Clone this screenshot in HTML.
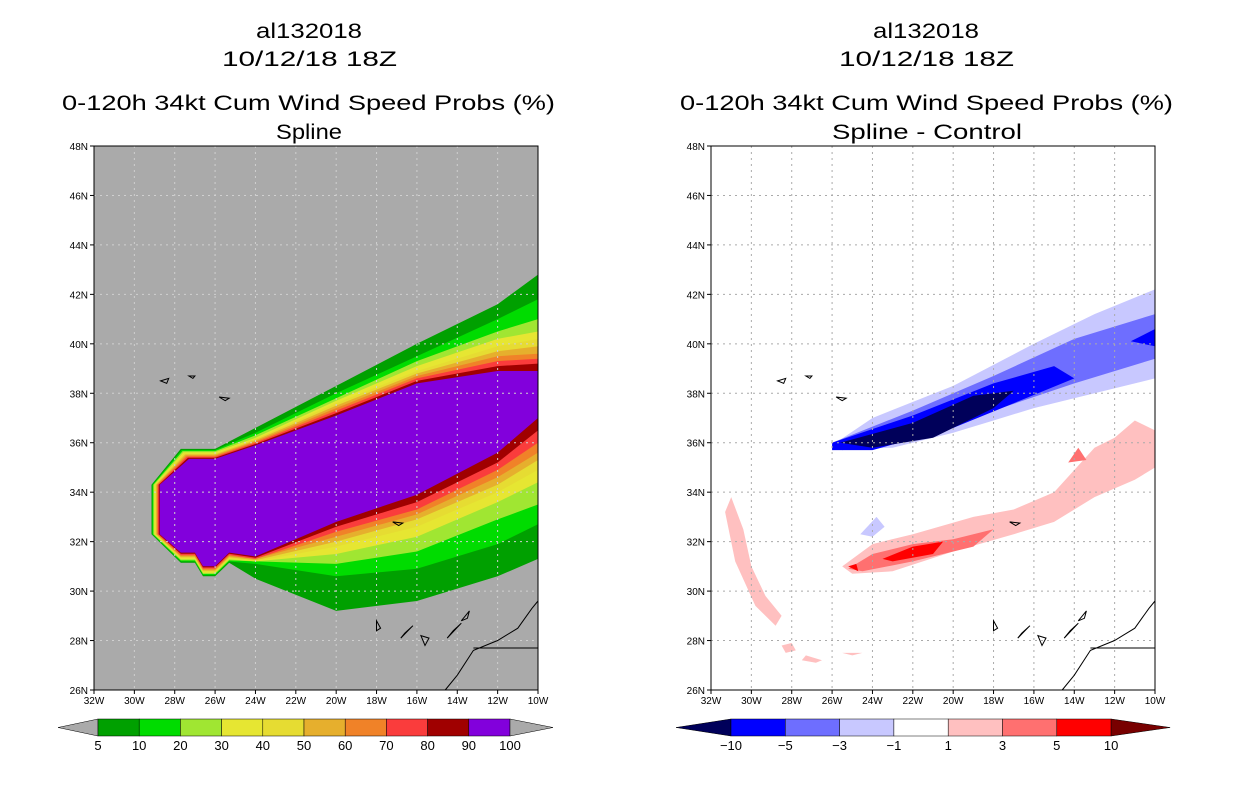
<!DOCTYPE html>
<html><head><meta charset="utf-8"><style>
body{margin:0;background:#fff;width:1236px;height:800px;overflow:hidden;font-family:"Liberation Sans",sans-serif}
svg text{font-family:"Liberation Sans",sans-serif}
</style></head><body>
<svg id="s" width="1236" height="800">
<g font-size="21" fill="#000">
<text x="256" y="38" textLength="106" lengthAdjust="spacingAndGlyphs">al132018</text>
<text x="222" y="66" textLength="175" lengthAdjust="spacingAndGlyphs">10/12/18 18Z</text>
<text x="62" y="110" textLength="493" lengthAdjust="spacingAndGlyphs">0-120h 34kt Cum Wind Speed Probs (%)</text>
<text x="276" y="139" textLength="66" lengthAdjust="spacingAndGlyphs">Spline</text>
</g>
<g font-size="21" fill="#000">
<text x="873" y="38" textLength="106" lengthAdjust="spacingAndGlyphs">al132018</text>
<text x="839" y="66" textLength="175" lengthAdjust="spacingAndGlyphs">10/12/18 18Z</text>
<text x="680" y="110" textLength="493" lengthAdjust="spacingAndGlyphs">0-120h 34kt Cum Wind Speed Probs (%)</text>
<text x="832" y="139" textLength="190" lengthAdjust="spacingAndGlyphs">Spline - Control</text>
</g>
<g id="L"></g>
<g id="R"></g>
<g id="CB"></g>
</svg>
<script>
const NS="http://www.w3.org/2000/svg";
const lonTicks=[-32,-30,-28,-26,-24,-22,-20,-18,-16,-14,-12,-10];
const latTicks=[26,28,30,32,34,36,38,40,42,44,46,48];
const probLevels=[5,10,20,30,40,50,60,70,80,90,100];
const probColors=["#00a000","#00dc00","#a0e632","#e6e632","#e6dc32","#e6af2d","#f08228","#fa3c3c","#a00000","#8200dc"];
const upLon=[-24,-20,-16,-12,-10];
const upLat=[[36.6,38.3,40,41.6,42.8],[36.4,38,39.5,41,41.8],[36.3,37.8,39.3,40.5,41],[36.2,37.7,39.1,40.2,40.5],[36.15,37.6,38.9,39.9,40.2],[36.1,37.5,38.8,39.7,39.9],[36.05,37.4,38.7,39.5,39.6],[36,37.3,38.6,39.3,39.4],[35.95,37.2,38.5,39.1,39.2],[35.9,37.1,38.4,38.9,38.9]];
const loLon=[-10,-12,-16,-20,-24];
const loLat=[[31.3,30.6,29.6,29.2,30.5],[32.7,31.9,30.9,30.6,31.1],[33.5,32.9,31.6,31.1,31.2],[34.4,33.6,32.2,31.5,31.2],[34.9,34,32.6,31.8,31.2],[35.3,34.3,32.9,32,31.25],[35.6,34.6,33.1,32.2,31.3],[36,34.9,33.3,32.4,31.3],[36.5,35.2,33.6,32.6,31.35],[37,35.6,33.9,32.8,31.4]];
const purpleUp=[35.85,37,38.2,38.7,38.2];
const purpleLo=[38.2,36.5,34.4,33.1,31.5];
const diffLevels=[-10,-5,-3,-1,1,3,5,10];
const diffColors=["#0000ff","#6e6eff","#c8c8ff","#ffffff","#ffc0c0","#ff7070","#ff0000"];
const diffShapes=[
 {c:"#c8c8ff",p:[[-26,35.9],[-24,37],[-20,38.3],[-16,40],[-13,41.2],[-10,42.2],[-10,38.6],[-13,38],[-16,37.4],[-18,36.9],[-20,36.4],[-23,35.8],[-26,35.7]]},
 {c:"#c8c8ff",p:[[-24.6,32.3],[-23.8,33],[-23.4,32.6],[-24,32.2]]},
 {c:"#6e6eff",p:[[-26,36],[-22,37.3],[-18,38.7],[-14,40.2],[-10,41.2],[-10,39.4],[-14,38.4],[-18,37.3],[-22,36.1],[-25.5,35.7]]},
 {c:"#0000ff",p:[[-26,36],[-22,37.1],[-18,38.4],[-15,39.1],[-14,38.6],[-17,37.6],[-20,36.6],[-24,35.7],[-26,35.7]]},
 {c:"#0000ff",p:[[-11.2,40.1],[-10,40.6],[-10,39.9]]},
 {c:"#00005a",p:[[-25.6,36],[-22,36.8],[-19,37.9],[-17,38.1],[-18,37.4],[-21,36.2],[-24,35.8]]},
 {c:"#ffc0c0",p:[[-25.5,31],[-24,31.9],[-22,32.3],[-19,33],[-17,33.3],[-15,34],[-13,35.8],[-12,36.2],[-11,36.9],[-10,36.5],[-10,35],[-11,34.5],[-13,33.8],[-15,32.8],[-17,32.3],[-20,31.6],[-23,30.8],[-25,30.7]]},
 {c:"#ffc0c0",p:[[-31.3,33.2],[-31,33.8],[-30.4,32.5],[-30,31],[-29.3,29.8],[-28.5,29],[-28.8,28.6],[-29.8,29.4],[-30.8,31.2]]},
 {c:"#ffc0c0",p:[[-28.5,27.8],[-28,27.9],[-27.8,27.6],[-28.3,27.5]]},
 {c:"#ffc0c0",p:[[-27.3,27.4],[-26.5,27.2],[-26.8,27.1],[-27.5,27.2]]},
 {c:"#ffc0c0",p:[[-25.5,27.5],[-24.5,27.5],[-25,27.4]]},
 {c:"#ff7070",p:[[-25.2,30.9],[-24,31.5],[-22,31.9],[-20,32.1],[-18,32.5],[-19,31.8],[-22,31.2],[-24.5,30.8]]},
 {c:"#ff7070",p:[[-14.3,35.2],[-13.8,35.8],[-13.4,35.3]]},
 {c:"#ff0000",p:[[-23.5,31.3],[-22,31.8],[-20.5,32],[-21,31.5],[-23,31.2]]},
 {c:"#ff0000",p:[[-25.2,31],[-24.8,31.1],[-24.7,30.8]]}
];
const coast=[
 [[-28.7,38.5],[-28.3,38.6],[-28.4,38.4]],[[-27.3,38.7],[-27,38.7],[-27.1,38.6]],[[-25.8,37.85],[-25.3,37.8],[-25.5,37.7]],
 [[-17.2,32.8],[-16.7,32.75],[-16.9,32.65]],[[-18,28.8],[-17.8,28.5],[-18,28.4]],[[-16.6,28.3],[-16.2,28.6],[-16.8,28.1]],
 [[-15.8,28.2],[-15.4,28.1],[-15.6,27.8]],[[-14.5,28.1],[-13.8,28.7],[-14.2,28.4]],[[-13.8,28.8],[-13.4,29.2],[-13.5,28.9]]];
const africa=[[-14.6,26],[-14,26.6],[-13.2,27.6],[-12,28],[-11,28.5],[-10.3,29.3],[-10,29.6]];
const border=[[-13.2,27.7],[-10,27.7]];

function mk(t,a,p){const e=document.createElementNS(NS,t);for(const k in a)e.setAttribute(k,a[k]);p.appendChild(e);return e;}
function axes(x0){return {X:l=>x0+(l+32)*444/22,Y:l=>690-(l-26)*544/22};}
function pts(ax,arr){return arr.map(q=>ax.X(q[0]).toFixed(1)+","+ax.Y(q[1]).toFixed(1)).join(" ");}
function hex(d){return [[-25.3,31.15+d],[-26,30.6+d],[-26.6,30.6+d],[-27,31.15+d],[-27.7,31.15+d],[-29.15+d,32.3],[-29.15+d,34.3],[-27.7+d,35.75-d],[-26,35.75-d]];}

function drawMap(g,x0,left){
 const ax=axes(x0);
 mk("rect",{x:x0,y:146,width:444,height:544,fill:left?"#aaaaaa":"#fff"},g);
 if(left){
  for(let i=0;i<10;i++){
   const d=i*0.045;
   const arr=hex(d).concat(upLon.map((l,j)=>[l,upLat[i][j]])).concat(loLon.map((l,j)=>[l,loLat[i][j]]));
   const p=mk("polygon",{points:pts(ax,arr),fill:probColors[i]},g);
   
   
  }
  const arr=hex(0.45).concat(upLon.map((l,j)=>[l,purpleUp[j]])).concat(loLon.map((l,j)=>[l,purpleLo[j]]));
  const p=mk("polygon",{points:pts(ax,arr),fill:probColors[9]},g);
  
  
 } else {
  diffShapes.forEach((s,i)=>{
   const p=mk("polygon",{points:pts(ax,s.p),fill:s.c},g);
   
   
  });
 }
 const gc=left?"#d0d0d0":"#aaaaaa";
 lonTicks.slice(1,-1).forEach(l=>mk("line",{x1:ax.X(l),x2:ax.X(l),y1:146,y2:690,stroke:gc,"stroke-dasharray":"2,4","stroke-width":1},g));
 latTicks.slice(1).forEach(l=>mk("line",{x1:x0,x2:x0+444,y1:ax.Y(l),y2:ax.Y(l),stroke:gc,"stroke-dasharray":"2,4","stroke-width":1},g));
 coast.forEach(c=>mk("polygon",{points:pts(ax,c),fill:"none",stroke:"#000","stroke-width":1},g));
 mk("polyline",{points:pts(ax,africa),fill:"none",stroke:"#000","stroke-width":1},g);
 mk("polyline",{points:pts(ax,border),fill:"none",stroke:"#000","stroke-width":1},g);
 mk("rect",{x:x0,y:146,width:444,height:544,fill:"none",stroke:"#000","stroke-width":1},g);
 latTicks.forEach(l=>{
  mk("line",{x1:x0-4,x2:x0,y1:ax.Y(l),y2:ax.Y(l),stroke:"#000"},g);
  const t=mk("text",{x:x0-6,y:ax.Y(l)+4,"font-size":10,"text-anchor":"end"},g);t.textContent=l+"N";
  
  
 });
 lonTicks.forEach(l=>{
  mk("line",{x1:ax.X(l),x2:ax.X(l),y1:690,y2:694,stroke:"#000"},g);
  const t=mk("text",{x:ax.X(l),y:704,"font-size":10,"text-anchor":"middle"},g);t.textContent=(-l)+"W";
  
  
 });
}
drawMap(document.getElementById("L"),94,true);
drawMap(document.getElementById("R"),711,false);

const cb=document.getElementById("CB");
(function(){
 const x0=98,w=41.2,y=719,h=17;
 mk("polygon",{points:`58,${y+h/2} ${x0},${y} ${x0},${y+h}`,fill:"#aaaaaa",stroke:"#000","stroke-width":0.5},cb);
 probColors.forEach((c,i)=>{
  const r=mk("rect",{x:x0+i*w,y:y,width:w,height:h,fill:c,stroke:"#000","stroke-width":0.5},cb);
  
  
 });
 const xe=x0+10*w;
 mk("polygon",{points:`${xe},${y} ${xe+43},${y+h/2} ${xe},${y+h}`,fill:"#aaaaaa",stroke:"#000","stroke-width":0.5},cb);
 probLevels.forEach((v,i)=>{
  const t=mk("text",{x:x0+i*w,y:750,"font-size":13,"text-anchor":"middle"},cb);t.textContent=v;
  
  
 });
})();
(function(){
 const x0=731,w=54.3,y=719,h=17;
 mk("polygon",{points:`676,${y+h/2} ${x0},${y} ${x0},${y+h}`,fill:"#00005a",stroke:"#000","stroke-width":0.5},cb);
 diffColors.forEach((c,i)=>{
  const r=mk("rect",{x:x0+i*w,y:y,width:w,height:h,fill:c,stroke:"#000","stroke-width":0.5},cb);
  
  
 });
 const xe=x0+7*w;
 mk("polygon",{points:`${xe},${y} ${xe+59},${y+h/2} ${xe},${y+h}`,fill:"#780000",stroke:"#000","stroke-width":0.5},cb);
 diffLevels.forEach((v,i)=>{
  const t=mk("text",{x:x0+i*w,y:750,"font-size":13,"text-anchor":"middle"},cb);t.textContent=v<0?"\u2212"+(-v):v;
  
  
 });
})();
</script>
</body></html>
